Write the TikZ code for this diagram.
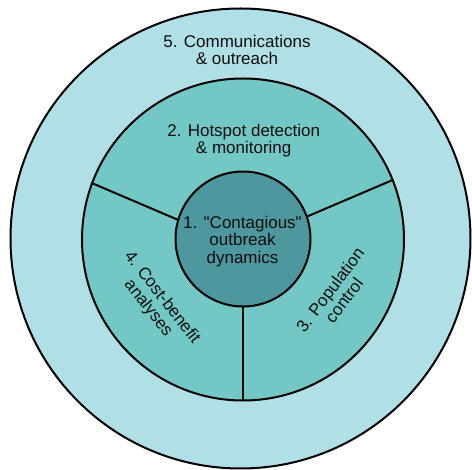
\documentclass[tikz,border=0pt]{standalone}
\usepackage{fontspec}
\setmainfont{Liberation Sans}
\definecolor{ringout}{RGB}{176,223,229}
\definecolor{ringmid}{RGB}{115,200,197}
\definecolor{ringcore}{RGB}{78,151,158}
\definecolor{ink}{RGB}{15,15,15}
\begin{document}
\begin{tikzpicture}[x=1pt,y=-1pt,
  disc/.style={circle,draw=black,line width=2pt,inner sep=0pt,outer sep=0pt},
  divider/.style={draw=black,line width=2pt},
  label/.style={align=center,text=ink,font=\fontsize{17}{17.5}\selectfont,inner sep=0pt}]
\useasboundingbox (0,0) rectangle (472,470);
% concentric rings
\node[disc,fill=ringout,minimum size=460pt] (outer) at (240.5,238.5) {};
\node[disc,fill=ringmid,minimum size=322pt] (mid) at (243,239.5) {};
% sector dividers of the middle ring
\coordinate (lo) at (91,182.7);
\coordinate (li) at (178.3,220);
\coordinate (ro) at (392.7,180);
\coordinate (ri) at (306.7,216.7);
\coordinate (bo) at (243,400);
\coordinate (bi) at (243,300);
\draw[divider] (lo) -- (li);
\draw[divider] (ro) -- (ri);
\draw[divider] (bo) -- (bi);
\node[disc,fill=ringcore,minimum size=135pt] (core) at (243,239) {};
% labels
\node[label] (t5) at (237,50) {5. Communications\\\& outreach};
\node[label] (t2) at (243.7,140.6) {2. Hotspot detection\\\& monitoring};
\node[label] (t1) at (242.5,241.4) {1. \textquotedbl Contagious\textquotedbl\\outbreak\\dynamics};
\node[label,rotate=-52] (t4) at (155,303) {4. Cost-benefit\\analyses};
\node[label,rotate=53] (t3) at (337,295) {3. Population\\control};
\end{tikzpicture}
\end{document}
